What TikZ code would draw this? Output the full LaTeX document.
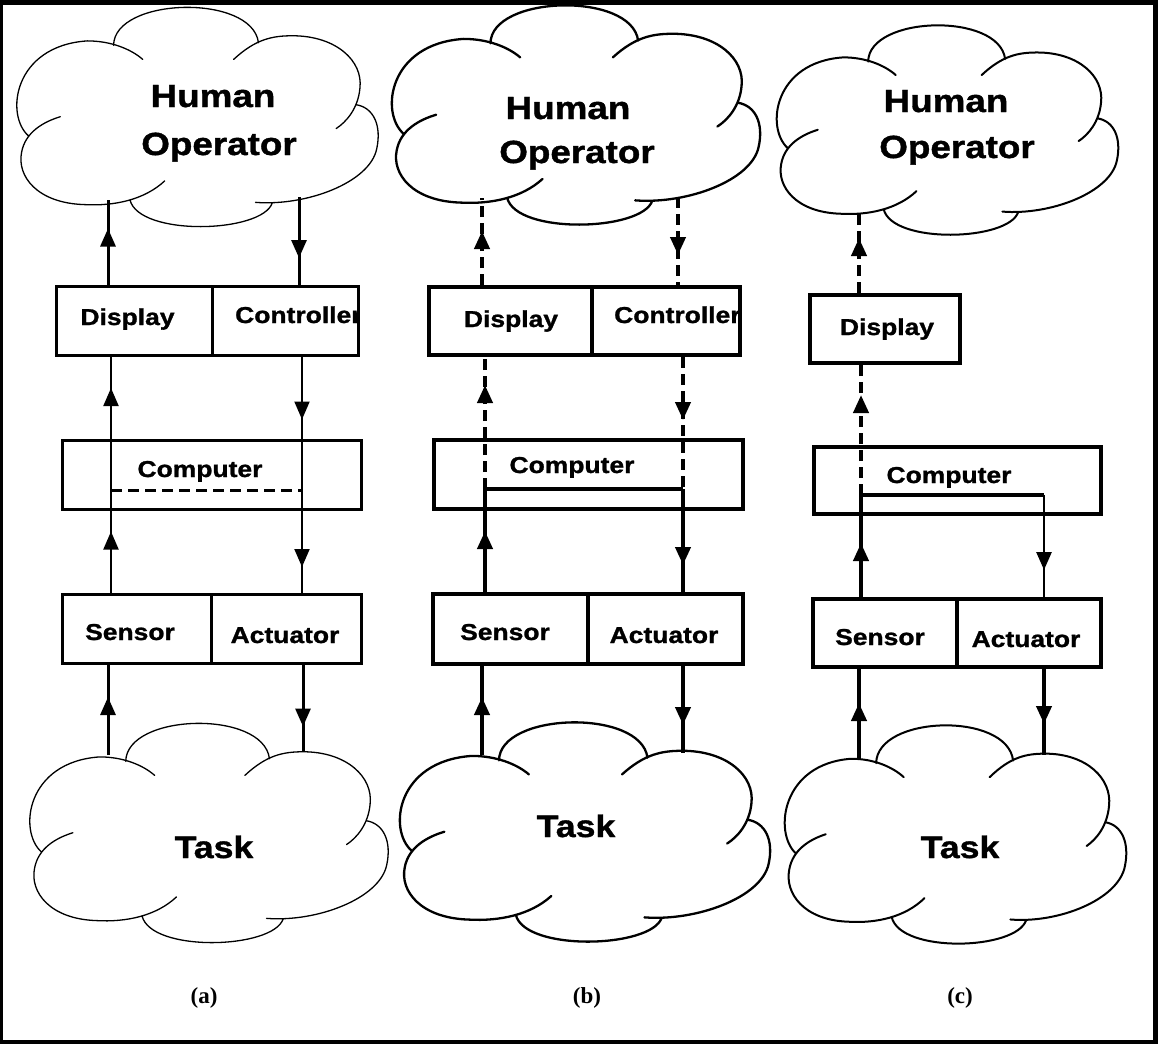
\documentclass[tikz,border=0pt]{standalone}
\usepackage{fontspec}
\usetikzlibrary{arrows.meta,decorations.markings}
\newfontfamily\lblfont{Liberation Sans}[FakeStretch=1.15,BoldFeatures={FakeBold=1.2}]
\newfontfamily\subfont{Liberation Serif}

\newcommand\cloudshape[5]{%
  \begin{scope}[shift={(#1,#2)},x=#3pt,y=-#4pt]
    \draw[line width=#5, line cap=round, line join=round]
      (0.037,0.578) .. controls (-0.0276,0.485) and (-0.0046,0.174) .. (0.198,0.152)
        .. controls (0.263,0.152) and (0.318,0.189) .. (0.350,0.235)
      (0.270,0.172) .. controls (0.272,-0.045) and (0.650,-0.061) .. (0.667,0.160)
      (0.599,0.235) .. controls (0.659,0.144) and (0.705,0.129) .. (0.760,0.129)
        .. controls (0.880,0.129) and (0.954,0.242) .. (0.945,0.364)
        .. controls (0.940,0.455) and (0.908,0.515) .. (0.880,0.545)
      (0.934,0.438) .. controls (0.982,0.45) and (1.005,0.530) .. (0.991,0.636)
        .. controls (0.972,0.788) and (0.797,0.894) .. (0.659,0.876)
      (0.705,0.878) .. controls (0.677,1.015) and (0.340,1.030) .. (0.315,0.865)
      (0.410,0.780) .. controls (0.355,0.864) and (0.272,0.894) .. (0.189,0.886)
        .. controls (0.060,0.879) and (0.005,0.758) .. (0.018,0.652)
        .. controls (0.028,0.561) and (0.078,0.515) .. (0.124,0.492);
  \end{scope}}

\tikzset{
  tip/.style={postaction={decorate,decoration={markings,
      mark=at position #1 with {\arrow{Triangle[length=18pt,width=15pt]}}}}},
  boxa/.style={draw,line width=3pt,inner sep=0pt},
  boxb/.style={draw,line width=4pt,inner sep=0pt},
  lbl/.style={font=\lblfont\bfseries\fontsize{23}{23}\selectfont,inner sep=0pt,anchor=base},
  biglbl/.style={font=\lblfont\bfseries\fontsize{32}{32}\selectfont,inner sep=0pt,anchor=base},
  tasklbl/.style={font=\lblfont\bfseries\fontsize{31}{31}\selectfont,inner sep=0pt,anchor=base},
  sublbl/.style={font=\subfont\bfseries\fontsize{23}{23}\selectfont,inner sep=0pt,anchor=base},
  solA/.style={line width=3pt},
  thinA/.style={line width=2pt},
  dashA/.style={line width=3pt,dash pattern=on 11pt off 6pt},
  solB/.style={line width=4pt},
  dashB/.style={line width=4pt,dash pattern=on 11pt off 6pt},
  thinC/.style={line width=2.7pt},
}

\begin{document}
\begin{tikzpicture}[x=1pt,y=-1pt]
\useasboundingbox (0,0) rectangle (1158,1044);
\fill[black] (0,0) rectangle (1158,1044);
\fill[white] (3,5) rectangle (1153,1040);

% ---------- clouds ----------
\cloudshape{15}{7}{365}{223}{1.3pt}
\cloudshape{390}{5}{372}{223}{2.3pt}
\cloudshape{775}{25}{345}{213}{2pt}
\cloudshape{28}{723}{362}{223}{1.3pt}
\cloudshape{398}{722}{374}{223}{2.3pt}
\cloudshape{783}{725}{345}{222}{2pt}

\node[biglbl] (hoAt1) at (213,107) {Human};
\node[biglbl] (hoAt2) at (219,155) {Operator};
\node[biglbl] (hoBt1) at (568,119) {Human};
\node[biglbl] (hoBt2) at (577,163) {Operator};
\node[biglbl] (hoCt1) at (946,112) {Human};
\node[biglbl] (hoCt2) at (957,158) {Operator};
\node[tasklbl] (taskAt) at (214,858) {Task};
\node[tasklbl] (taskBt) at (576,837) {Task};
\node[tasklbl] (taskCt) at (960,858) {Task};

% cloud attachment points
\coordinate (hoAl) at (108,200);
\coordinate (hoAr) at (299,197);
\coordinate (taskAl) at (108,755);
\coordinate (taskAr) at (303,752);
\coordinate (hoBl) at (482,198);
\coordinate (hoBr) at (678,197);
\coordinate (taskBl) at (482,755);
\coordinate (taskBr) at (683,753);
\coordinate (hoCl) at (859,210);
\coordinate (taskCl) at (859,759);
\coordinate (taskCr) at (1044,755);

% column coordinates
\coordinate (colAL) at (108,0);
\coordinate (colAL2) at (111,0);
\coordinate (colAR) at (299,0);
\coordinate (colAR2) at (302,0);
\coordinate (colAR3) at (303,0);
\coordinate (colBL) at (482,0);
\coordinate (colBL2) at (485,0);
\coordinate (colBR) at (678,0);
\coordinate (colBR2) at (683,0);
\coordinate (colCL) at (859,0);
\coordinate (colCL2) at (861,0);
\coordinate (colCR) at (1044,0);

% junctions inside computer boxes
\coordinate (jAL) at (111,490);
\coordinate (jAR) at (302,490);
\coordinate (jBL) at (485,489);
\coordinate (jBR) at (683,489);
\coordinate (jCL) at (861,495);
\coordinate (jCR) at (1044,495);

% ---------- boxes (a) ----------
\node[boxa,minimum width=156pt,minimum height=69pt] (dispA) at (134,320.5) {};
\node[boxa,minimum width=146pt,minimum height=69pt] (ctrlA) at (285,320.5) {};
\node[boxa,minimum width=299pt,minimum height=69pt] (compA) at (211.5,474.5) {};
\node[boxa,minimum width=149pt,minimum height=69pt] (sensA) at (136.5,628.5) {};
\node[boxa,minimum width=150pt,minimum height=69pt] (actA) at (286,628.5) {};
% ---------- boxes (b) ----------
\node[boxb,minimum width=163pt,minimum height=68pt] (dispB) at (510.5,321) {};
\node[boxb,minimum width=148pt,minimum height=68pt] (ctrlB) at (666,321) {};
\node[boxb,minimum width=309pt,minimum height=69pt] (compB) at (588.5,474.5) {};
\node[boxb,minimum width=155pt,minimum height=70pt] (sensB) at (510.5,629) {};
\node[boxb,minimum width=155pt,minimum height=70pt] (actB) at (665.5,629) {};
% ---------- boxes (c) ----------
\node[boxb,minimum width=150pt,minimum height=68pt] (dispC) at (885,329) {};
\node[boxb,minimum width=287pt,minimum height=67pt] (compC) at (957.5,480.5) {};
\node[boxb,minimum width=144pt,minimum height=68pt] (sensC) at (885,633) {};
\node[boxb,minimum width=144pt,minimum height=68pt] (actC) at (1029,633) {};

% ---------- box texts ----------
\node[lbl] (dispAt) at (127.5,325) {Display};
\begin{scope}
  \clip (212,286) rectangle (358,355);
  \node[lbl,anchor=base west] (ctrlAt) at (235,323) {Controller};
\end{scope}
\node[lbl] (compAt) at (200,477) {Computer};
\node[lbl] (sensAt) at (130,640) {Sensor};
\node[lbl] (actAt) at (285,643) {Actuator};

\node[lbl] (dispBt) at (511,327) {Display};
\begin{scope}
  \clip (592,287) rectangle (739,355);
  \node[lbl,anchor=base west] (ctrlBt) at (614,323) {Controller};
\end{scope}
\node[lbl] (compBt) at (572,473) {Computer};
\node[lbl] (sensBt) at (505,640) {Sensor};
\node[lbl] (actBt) at (664,643) {Actuator};

\node[lbl] (dispCt) at (887,335) {Display};
\node[lbl] (compCt) at (949,483) {Computer};
\node[lbl] (sensCt) at (880,645) {Sensor};
\node[lbl] (actCt) at (1026,647) {Actuator};

% ---------- connectors (a) ----------
\draw[solA,tip=56pt] (dispA.north -| colAL) -- (hoAl);
\draw[solA,tip=61pt] (hoAr) -- (ctrlA.north -| colAR);
\draw[thinA,tip=61pt] (sensA.north -| colAL2) -- (jAL);
\draw[thinA,tip=102pt] (jAL) -- (dispA.south -| colAL2);
\draw[thinA,tip=63pt] (ctrlA.south -| colAR2) -- (jAR);
\draw[thinA,tip=77pt] (jAR) -- (actA.north -| colAR2);
\draw[dashA] (jAL) -- (jAR);
\draw[solA,tip=58pt] (taskAl) -- (sensA.south -| colAL);
\draw[solA,tip=62pt] (actA.south -| colAR3) -- (taskAr);

% ---------- connectors (b) ----------
\draw[dashB,tip=54pt] (dispB.north -| colBL) -- (hoBl);
\draw[dashB,tip=58pt] (hoBr) -- (ctrlB.north -| colBR);
\draw[dashB,tip=104pt] (jBL) -- (dispB.south -| colBL2);
\draw[dashB,tip=63pt] (ctrlB.south -| colBR2) -- (jBR);
\draw[solB] (jBL) -- (jBR);
\draw[solB,tip=61pt] (sensB.north -| colBL2) -- (jBL);
\draw[solB,tip=76pt] (jBR) -- (actB.north -| colBR2);
\draw[solB,tip=58pt] (taskBl) -- (sensB.south -| colBL);
\draw[solB,tip=59pt] (actB.south -| colBR2) -- (taskBr);

% ---------- connectors (c) ----------
\draw[dashB,tip=55pt] (dispC.north -| colCL) -- (hoCl);
\draw[dashB,tip=100pt] (jCL) -- (dispC.south -| colCL2);
\draw[solB,tip=54pt] (sensC.north -| colCL2) -- (jCL);
\draw[solB] (jCL) -- (jCR);
\draw[thinC,tip=75pt] (jCR) -- (actC.north -| colCR);
\draw[solB,tip=56pt] (taskCl) -- (sensC.south -| colCL);
\draw[solB,tip=55pt] (actC.south -| colCR) -- (taskCr);

% ---------- sub labels ----------
\node[sublbl] (labA) at (204,1003) {(a)};
\node[sublbl] (labB) at (587,1003) {(b)};
\node[sublbl] (labC) at (960,1003) {(c)};
\end{tikzpicture}
\end{document}
